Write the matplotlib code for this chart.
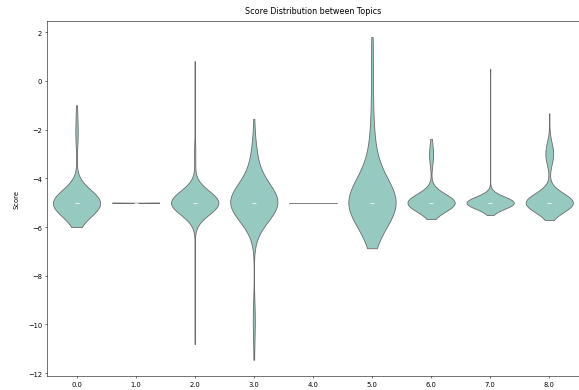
import matplotlib
matplotlib.use("Agg")
import matplotlib.pyplot as plt
import pandas as pd
import seaborn as sns

# score lists per topic (most entries sit exactly at -5)
topics = [0.0, 1.0, 2.0, 3.0, 4.0, 5.0, 6.0, 7.0, 8.0]

scores_0 = [-5.0] * 54 + [-6.0, -5.7, -5.5, -5.3, -2.5, -2.1, -1.9, -1.0]
scores_1 = [-5.0] * 5 + [-5.01]
scores_2 = [-5.0] * 110 + [0.81, -2.8, -3.0, -3.2, -10.8]
scores_3 = [-5.0] * 85 + [-1.56, -2.7, -2.9, -3.0, -3.1, -3.2, -3.3, -3.4,
                          -3.5, -3.6, -3.7, -3.8, -3.9, -4.0, -4.1, -4.3, -4.4,
                          -4.6, -5.3, -5.6, -5.9, -6.2,
                          -9.5, -9.7, -9.9, -10.1, -11.45]
scores_4 = [-5.0]
scores_5 = [-5.0] * 38 + [1.8, 0.5, -0.6, -1.8, -2.4, -2.8, -3.1, -3.4, -3.6,
                          -3.8, -4.0, -4.2, -4.4, -4.7,
                          -5.2, -5.3, -5.45, -5.6, -5.75, -5.9, -6.2, -6.87]
scores_6 = [-5.0] * 93 + [-2.38, -2.7, -2.8, -2.9, -3.0, -3.0, -3.1, -3.2,
                          -3.3, -3.4, -5.67]
scores_7 = [-5.0] * 145 + [0.49, -5.3, -5.51]
scores_8 = ([-5.0] * 208 + [-1.33, -2.5] + [-2.6] * 2 + [-2.7] * 4 + [-2.8] * 5
            + [-2.9] * 6 + [-3.0] * 6 + [-3.1] * 6 + [-3.2] * 5 + [-3.3] * 3
            + [-3.4] * 2 + [-5.71])

all_scores = [scores_0, scores_1, scores_2, scores_3, scores_4,
              scores_5, scores_6, scores_7, scores_8]

rows = []
for t, s in zip(topics, all_scores):
    for v in s:
        rows.append((t, v))
df = pd.DataFrame(rows, columns=["Topic", "Score"])

fig = plt.figure(figsize=(12, 8.09))
ax = fig.add_axes([0.081, 0.036, 0.917, 0.908])

sns.violinplot(data=df, x="Topic", y="Score", color="#8dd3c7", cut=0,
               density_norm="width", bw_adjust=1.5, inner="box", ax=ax)

ax.set_title("Score Distribution between Topics", pad=12)
ax.set_xlabel("")
ax.set_ylabel("Score", labelpad=12)

fig.savefig("out.png", dpi=48.33)
